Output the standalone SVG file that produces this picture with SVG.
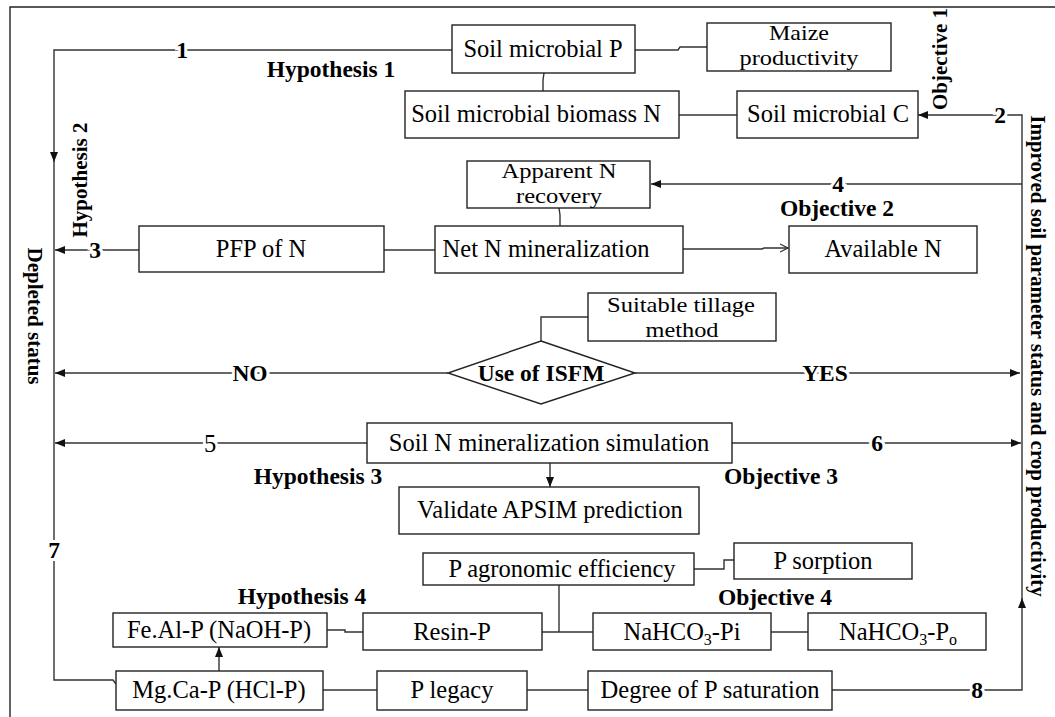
<svg xmlns="http://www.w3.org/2000/svg" width="1055" height="717" viewBox="0 0 1055 717">
<defs>
<style>
.box{fill:#fff;stroke:#222;stroke-width:1.4}
.ln{fill:none;stroke:#333;stroke-width:1.4}
.t{font-family:"Liberation Serif","Times New Roman",serif;font-size:24.5px;text-anchor:middle;fill:#000}
.t2{font-size:22px}
.b{font-family:"Liberation Serif","Times New Roman",serif;font-size:23.5px;font-weight:bold;text-anchor:middle;fill:#000}
.r{font-family:"Liberation Serif","Times New Roman",serif;font-size:21px;font-weight:bold;text-anchor:middle;fill:#000}
.lb{stroke:#fff;stroke-width:6;paint-order:stroke;dominant-baseline:central}
</style>
<marker id="ah" viewBox="0 0 10 8" refX="10" refY="4" markerWidth="10" markerHeight="8" orient="auto" markerUnits="userSpaceOnUse"><path d="M0,0 L10,4 L0,8 z" fill="#111"/></marker>
<marker id="oa" viewBox="0 0 10 10" refX="9" refY="5" markerWidth="10" markerHeight="10" orient="auto" markerUnits="userSpaceOnUse"><path d="M1,1 L9,5 L1,9" fill="none" stroke="#333" stroke-width="1.2"/></marker>
</defs>
<rect x="0" y="0" width="1055" height="717" fill="#fff"/>
<path d="M10,717 V7 H1055" fill="none" stroke="#222" stroke-width="1.4"/>

<g id="connectors">
<path class="ln" d="M452,50 H54 V162" marker-end="url(#ah)"/>
<path class="ln" d="M54,160 V680 H113 L116,684"/>
<path class="ln" d="M832,690 H1022 V598" marker-end="url(#ah)"/>
<path class="ln" d="M1022,600 V115 H918" marker-end="url(#ah)"/>
<path class="ln" d="M1022,184 H651" marker-end="url(#ah)"/>
<path class="ln" d="M139,250 H55" marker-end="url(#ah)"/>
<path class="ln" d="M448,373 H55" marker-end="url(#ah)"/>
<path class="ln" d="M635,373 H1020" marker-end="url(#ah)"/>
<path class="ln" d="M367,443 H55" marker-end="url(#ah)"/>
<path class="ln" d="M732,443 H1021" marker-end="url(#ah)"/>
<path class="ln" d="M550,463 V487" marker-end="url(#ah)"/>
<path class="ln" d="M219,671 V647" marker-end="url(#ah)"/>
<path class="ln" d="M635,50 H678 L680,47 H707"/>
<path class="ln" d="M544,73 L543,80 V91"/>
<path class="ln" d="M679,115 H737"/>
<path class="ln" d="M559,208 L560,215 V226"/>
<path class="ln" d="M435,250 H384"/>
<path class="ln" d="M683,249 H762 L764,248 H788" marker-end="url(#oa)"/>
<path class="ln" d="M588,317 H541 V341"/>
<path class="ln" d="M694,569 H724 V560 H734"/>
<path class="ln" d="M559,585 V632"/>
<path class="ln" d="M542,632 H593"/>
<path class="ln" d="M327,630 H345 V632 H363"/>
<path class="ln" d="M771,632 H808"/>
<path class="ln" d="M323,690 H377"/>
<path class="ln" d="M527,690 H588"/>
<text class="b lb" x="182" y="50">1</text>
<text class="b lb" x="1000" y="115">2</text>
<text class="b lb" x="95" y="250">3</text>
<text class="b lb" x="838" y="184">4</text>
<text class="t lb" x="210" y="443">5</text>
<text class="b lb" x="877" y="443">6</text>
<text class="b lb" x="54" y="550">7</text>
<text class="b lb" x="977" y="690">8</text>
<text class="b lb" x="250" y="373">NO</text>
<text class="b lb" x="825" y="373">YES</text>
</g>

<g id="n-smp"><rect class="box" x="452" y="25" width="183" height="48"/><text class="t" x="543" y="57">Soil microbial P</text></g>
<g id="n-maize"><rect class="box" x="707" y="23" width="184" height="48"/><text class="t t2" x="799" y="40" textLength="60" lengthAdjust="spacingAndGlyphs">Maize</text><text class="t t2" x="799" y="64.5" textLength="119" lengthAdjust="spacingAndGlyphs">productivity</text></g>
<g id="n-smbn"><rect class="box" x="405" y="91" width="274" height="47"/><text class="t" x="536" y="122">Soil microbial biomass N</text></g>
<g id="n-smc"><rect class="box" x="737" y="91" width="181" height="47"/><text class="t" x="828" y="122">Soil microbial C</text></g>
<g id="n-anr"><rect class="box" x="467" y="161" width="183" height="47"/><text class="t t2" x="559" y="178" textLength="115" lengthAdjust="spacingAndGlyphs">Apparent N</text><text class="t t2" x="559" y="202.5" textLength="86" lengthAdjust="spacingAndGlyphs">recovery</text></g>
<g id="n-pfp"><rect class="box" x="139" y="226" width="245" height="46"/><text class="t" x="261" y="257">PFP of N</text></g>
<g id="n-netn"><rect class="box" x="435" y="226" width="248" height="47"/><text class="t" x="546" y="257">Net N mineralization</text></g>
<g id="n-avn"><rect class="box" x="789" y="226" width="188" height="47"/><text class="t" x="883" y="257">Available N</text></g>
<g id="n-till"><rect class="box" x="588" y="293" width="188" height="48"/><text class="t t2" x="681" y="312" textLength="148" lengthAdjust="spacingAndGlyphs">Suitable tillage</text><text class="t t2" x="682" y="336.5" textLength="73" lengthAdjust="spacingAndGlyphs">method</text></g>
<g id="n-isfm"><polygon class="box" points="541,341 635,373 541,404 448,373"/><text class="b" x="541" y="381">Use of ISFM</text></g>
<g id="n-sim"><rect class="box" x="367" y="423" width="365" height="40"/><text class="t" x="549" y="451">Soil N mineralization simulation</text></g>
<g id="n-apsim"><rect class="box" x="399" y="487" width="300" height="47"/><text class="t" x="550" y="518">Validate APSIM prediction</text></g>
<g id="n-pae"><rect class="box" x="423" y="553" width="271" height="32"/><text class="t" x="562" y="577">P agronomic efficiency</text></g>
<g id="n-psorp"><rect class="box" x="734" y="543" width="178" height="36"/><text class="t" x="823" y="569">P sorption</text></g>
<g id="n-feal"><rect class="box" x="113" y="613" width="214" height="34"/><text class="t" x="219" y="638">Fe.Al-P (NaOH-P)</text></g>
<g id="n-resin"><rect class="box" x="363" y="613" width="179" height="37"/><text class="t" x="452" y="640">Resin-P</text></g>
<g id="n-pi"><rect class="box" x="593" y="613" width="178" height="37"/><text class="t" x="682" y="640">NaHCO<tspan font-size="16" dy="5">3</tspan><tspan dy="-5">-Pi</tspan></text></g>
<g id="n-po"><rect class="box" x="808" y="613" width="178" height="37"/><text class="t" x="898" y="640">NaHCO<tspan font-size="16" dy="5">3</tspan><tspan dy="-5">-P</tspan><tspan font-size="16" dy="5">o</tspan></text></g>
<g id="n-mgca"><rect class="box" x="116" y="671" width="207" height="39"/><text class="t" x="219" y="698">Mg.Ca-P (HCl-P)</text></g>
<g id="n-legacy"><rect class="box" x="377" y="671" width="150" height="39"/><text class="t" x="452" y="698">P legacy</text></g>
<g id="n-dps"><rect class="box" x="588" y="671" width="244" height="39"/><text class="t" x="710" y="698">Degree of P saturation</text></g>

<g id="labels">
<text class="b" x="331" y="77">Hypothesis 1</text>
<text class="b" x="837" y="216">Objective 2</text>
<text class="b" x="318" y="484">Hypothesis 3</text>
<text class="b" x="781" y="484">Objective 3</text>
<text class="b" x="302" y="604">Hypothesis 4</text>
<text class="b" x="775" y="605">Objective 4</text>
<text class="r" transform="translate(87,180) rotate(-90)">Hypothesis 2</text>
<text class="r" transform="translate(947,59) rotate(-90)">Objective 1</text>
<text class="r" transform="translate(28,316) rotate(90)">Depleted status</text>
<text class="r" transform="translate(1031,356) rotate(90)">Improved soil parameter status and crop productivity</text>
</g>
</svg>
